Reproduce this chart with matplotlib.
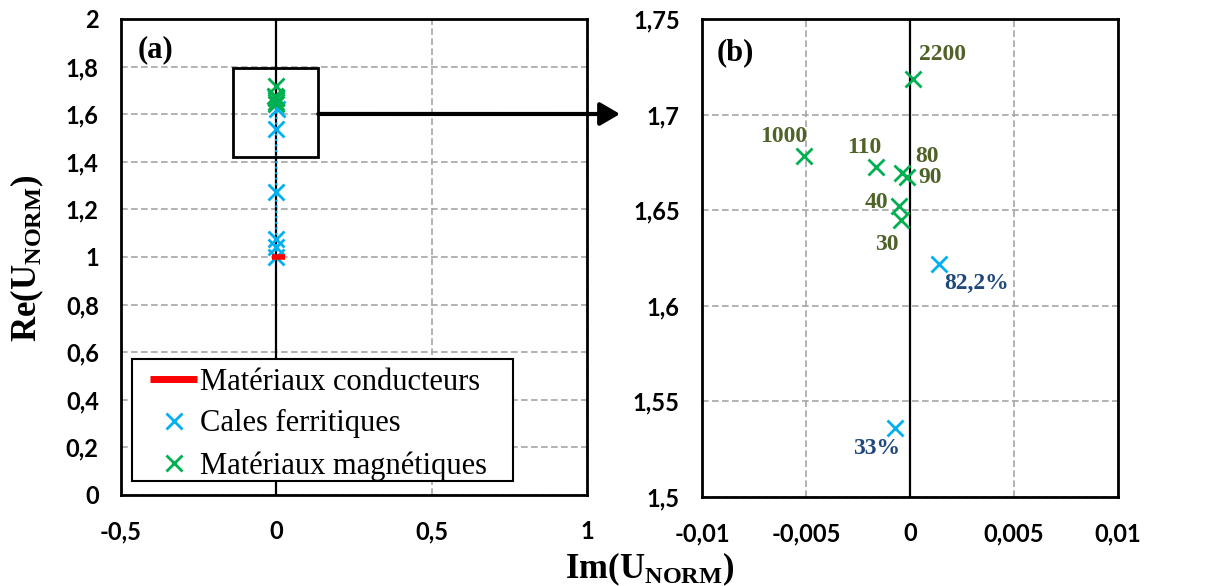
import matplotlib
matplotlib.use('Agg')
import matplotlib.pyplot as plt
from matplotlib.patches import Rectangle
from matplotlib.ticker import FixedLocator, FixedFormatter
from matplotlib.font_manager import FontProperties

plt.rcParams['mathtext.fontset'] = 'custom'
plt.rcParams['mathtext.bf'] = 'Liberation Serif:bold'
plt.rcParams['mathtext.rm'] = 'Liberation Serif'

# ---------------- data ----------------
mag_labels = ['30', '40', '80', '90', '110', '1000', '2200']
mag_im = [-0.00043, -0.00051, -0.00040, -0.00013, -0.00165, -0.00508, 0.00013]
mag_re = [1.6449, 1.6520, 1.6696, 1.6675, 1.6724, 1.6785, 1.7185]

fer_labels = ['', '', '', '', '33%', '82,2%']
fer_im = [0.0, 0.0, 0.0, 0.0, -0.0007, 0.0014]
fer_re = [1.000, 1.040, 1.075, 1.275, 1.536, 1.622]

cond_im = [-0.015, 0.028]
cond_re = [1.0, 1.0]

a_xticks = [-0.5, 0, 0.5, 1]
a_xticklabels = ['-0,5', '0', '0,5', '1']
a_yticks = [0, 0.2, 0.4, 0.6, 0.8, 1.0, 1.2, 1.4, 1.6, 1.8, 2.0]
a_yticklabels = ['0', '0,2', '0,4', '0,6', '0,8', '1', '1,2', '1,4', '1,6', '1,8', '2']
b_xticks = [-0.01, -0.005, 0, 0.005, 0.01]
b_xticklabels = ['-0,01', '-0,005', '0', '0,005', '0,01']
b_yticks = [1.5, 1.55, 1.6, 1.65, 1.7, 1.75]
b_yticklabels = ['1,5', '1,55', '1,6', '1,65', '1,7', '1,75']

# label offsets (pixels) for annotations in panel (b)
label_offsets = {'2200': (30, 25), '1000': (-21, 19), '110': (-11, 20),
                 '80': (25, 16), '90': (23, -1), '40': (-23, 4), '30': (-14, -25),
                 '82,2%': (38, -20), '33%': (-19, -20)}

BLUE = '#00B0F0'
GREEN = '#00B050'
RED = '#FF0000'
OLIVE = '#4F6228'
DBLUE = '#1F497D'

W, H = 1212, 586
fig = plt.figure(figsize=(W / 100, H / 100), dpi=100)
axA = fig.add_axes([121 / W, 1 - 495 / H, 466 / W, 476 / H])
axB = fig.add_axes([702 / W, 1 - 497 / H, 416 / W, 478 / H])


def style(ax, xt, xtl, yt, ytl, xlim, ylim):
    ax.set_xlim(*xlim)
    ax.set_ylim(*ylim)
    ax.xaxis.set_major_locator(FixedLocator(xt))
    ax.xaxis.set_major_formatter(FixedFormatter(xtl))
    ax.yaxis.set_major_locator(FixedLocator(yt))
    ax.yaxis.set_major_formatter(FixedFormatter(ytl))
    ax.tick_params(axis='x', length=0, pad=18)
    ax.tick_params(axis='y', length=0, pad=16)
    for lab in ax.get_xticklabels() + ax.get_yticklabels():
        lab.set_fontfamily('Lato')
        lab.set_fontweight('bold')
        lab.set_fontsize(17)
    ax.grid(True, color='#A6A6A6', linestyle=(0, (4, 2)), linewidth=1.2, zorder=0)
    ax.set_axisbelow(True)
    for s in ax.spines.values():
        s.set_linewidth(2)
        s.set_color('black')
    ax.axvline(0, color='black', lw=1.6, zorder=1)


style(axA, a_xticks, a_xticklabels, a_yticks, a_yticklabels, (-0.5, 1), (0, 2))
style(axB, b_xticks, b_xticklabels, b_yticks, b_yticklabels, (-0.01, 0.01), (1.5, 1.75))

# ---- panel (a) ----
axA.plot(fer_im, fer_re, color=BLUE, lw=1.5, linestyle=':', zorder=2)
fer_pts, = axA.plot(fer_im, fer_re, linestyle='none', marker='x', ms=11, mew=2,
                    color=BLUE, zorder=4, label='Cales ferritiques')
mag_pts, = axA.plot(mag_im, mag_re, linestyle='none', marker='x', ms=11, mew=2,
                    color=GREEN, zorder=4, label='Matériaux magnétiques')
cond_line, = axA.plot(cond_im, cond_re, color=RED, lw=4, solid_capstyle='butt', zorder=5,
                      label='Matériaux conducteurs')

axA.add_patch(Rectangle((-0.14, 1.42), 0.275, 0.375, fill=False, lw=2, ec='black', zorder=5))
axA.annotate('', xy=(620 / W, 1 - 114 / H), xycoords='figure fraction',
             xytext=(0.135, 1.601), textcoords='data',
             arrowprops=dict(arrowstyle='-|>,head_length=0.6,head_width=0.35',
                             color='black', lw=3, shrinkA=0, shrinkB=0, mutation_scale=20),
             annotation_clip=False, zorder=6)

# legend box (drawn separately to get Excel-like padding)
axA.add_patch(Rectangle((0.0236, 0.0294), 0.8176, 0.2563, transform=axA.transAxes,
                        facecolor='white', edgecolor='black', lw=1.5, zorder=9))
leg_font = FontProperties(family='Liberation Serif', size=22)
leg = axA.legend(handles=[cond_line, fer_pts, mag_pts], loc='lower left',
                 bbox_to_anchor=(0.0622, 0.030), borderaxespad=0, prop=leg_font,
                 frameon=False, handlelength=1.55, handletextpad=0.1,
                 labelspacing=0.42, borderpad=0)
leg.set_zorder(10)
leg.get_lines()[0].set_linewidth(5)

axA.text(0.035, 0.935, '(a)', transform=axA.transAxes, family='Liberation Serif',
         weight='bold', size=22, va='center', ha='left')

# ---- panel (b) ----
axB.plot(fer_im, fer_re, linestyle='none', marker='x', ms=11, mew=2, color=BLUE, zorder=4)
axB.plot(mag_im, mag_re, linestyle='none', marker='x', ms=11, mew=2, color=GREEN, zorder=4)

for x, y, lab in zip(mag_im, mag_re, mag_labels):
    dx, dy = label_offsets[lab]
    axB.annotate(lab, (x, y), xytext=(dx, dy), textcoords='offset pixels',
                 ha='center', va='center', family='Liberation Serif', weight='bold',
                 size=17, color=OLIVE)
for x, y, lab in zip(fer_im, fer_re, fer_labels):
    if not lab:
        continue
    dx, dy = label_offsets[lab]
    axB.annotate(lab, (x, y), xytext=(dx, dy), textcoords='offset pixels',
                 ha='center', va='center', family='Liberation Serif', weight='bold',
                 size=17, color=DBLUE)

axB.text(0.035, 0.93, '(b)', transform=axB.transAxes, family='Liberation Serif',
         weight='bold', size=22, va='center', ha='left')

# ---- axis titles ----
fig.text(27 / W, 1 - 258 / H, r'$\mathbf{Re(U_{NORM})}$', rotation=90, ha='center',
         va='center', size=25)
fig.text(650 / W, 1 - 569 / H, r'$\mathbf{Im(U_{NORM})}$', ha='center', va='center', size=25)

fig.savefig('out.png', dpi=100)
